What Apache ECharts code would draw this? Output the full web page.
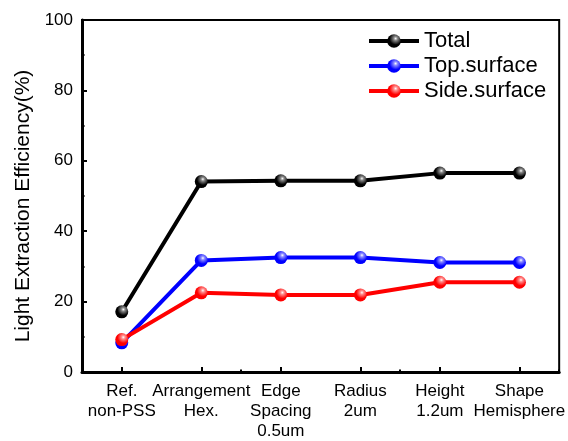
<!DOCTYPE html>
<html>
<head>
<meta charset="utf-8">
<script src="https://cdn.jsdelivr.net/npm/echarts@6/dist/echarts.min.js"></script>
<style>html,body{margin:0;padding:0;background:#fff}#c{width:568px;height:441px}</style>
</head>
<body>
<div id="c"></div>
<script>
var categories = ['Ref.\nnon-PSS', 'Arrangement\nHex.', 'Edge\nSpacing\n0.5um', 'Radius\n2um', 'Height\n1.2um', 'Shape\nHemisphere'];
var totalValues = [17.1, 54.1, 54.3, 54.3, 56.5, 56.5];
var topValues = [8.3, 31.7, 32.5, 32.5, 31.1, 31.1];
var sideValues = [9.2, 22.5, 21.9, 21.9, 25.5, 25.5];
var seriesNames = ['Total', 'Top.surface', 'Side.surface'];

var FONT = '"Liberation Sans", Arial, sans-serif';
function ball(base, light) {
  return new echarts.graphic.RadialGradient(0.62, 0.32, 0.75, [
    {offset: 0, color: '#ffffff'},
    {offset: 0.18, color: light},
    {offset: 0.6, color: base},
    {offset: 1, color: base}
  ]);
}
function mk(name, data, color, light) {
  return {
    name: name, type: 'line', data: data, xAxisIndex: 0,
    symbol: 'circle', symbolSize: 13,
    lineStyle: {color: color, width: 4},
    itemStyle: {color: ball(color, light), borderWidth: 0},
    z: 3
  };
}
var chart = echarts.init(document.getElementById('c'), null, {renderer: 'canvas'});
chart.setOption({
  animation: false,
  backgroundColor: '#fff',
  grid: {left: 82, right: 6, top: 20, bottom: 65, show: true, borderColor: '#000', borderWidth: 2, backgroundColor: 'transparent'},
  legend: {
    orient: 'vertical', left: 362, top: 25, itemWidth: 50, itemHeight: 17, itemGap: 3,
    textStyle: {fontFamily: FONT, fontSize: 22, color: '#000', lineHeight: 22},
    lineStyle: {width: 4},
    data: seriesNames
  },
  xAxis: [{
    type: 'category', data: categories, boundaryGap: true,
    axisLine: {lineStyle: {color: '#000', width: 3}},
    axisTick: {show: true, inside: true, alignWithLabel: true, length: 5, lineStyle: {color: '#000', width: 2}},
    axisLabel: {fontFamily: FONT, fontSize: 17, color: '#000', margin: 9, lineHeight: 20, interval: 0},
    splitLine: {show: false}
  }, {
    type: 'category', data: categories, boundaryGap: true, position: 'bottom',
    axisLine: {show: false},
    axisTick: {show: true, inside: true, length: 2.5, lineStyle: {color: '#000', width: 2}},
    axisLabel: {show: false},
    splitLine: {show: false}
  }],
  yAxis: {
    type: 'value', min: 0, max: 100, interval: 20,
    name: 'Light Extraction Efficiency(%)', nameLocation: 'middle', nameGap: 42,
    nameTextStyle: {fontFamily: FONT, fontSize: 21, color: '#000', padding: [0, 20, 0, 0]},
    axisLine: {show: true, lineStyle: {color: '#000', width: 3}},
    axisTick: {show: true, inside: true, length: 5, lineStyle: {color: '#000', width: 2}},
    minorTick: {show: true, splitNumber: 2, length: 2.5, lineStyle: {color: '#000', width: 2}},
    axisLabel: {fontFamily: FONT, fontSize: 17, color: '#000', margin: 9},
    splitLine: {show: false}
  },
  series: [
    mk(seriesNames[0], totalValues, '#000000', '#8a8a8a'),
    mk(seriesNames[1], topValues, '#0000ff', '#8c8cff'),
    mk(seriesNames[2], sideValues, '#ff0000', '#ff9090')
  ]
});
</script>
</body>
</html>
